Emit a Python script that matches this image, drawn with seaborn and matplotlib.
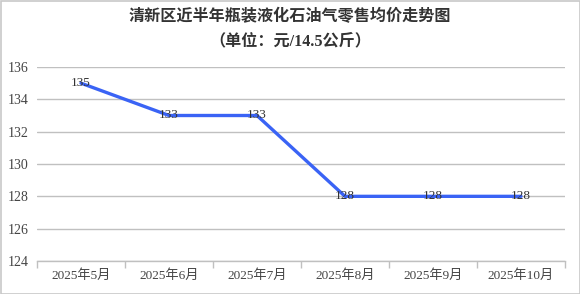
import matplotlib
matplotlib.use("Agg")
import matplotlib.pyplot as plt
import seaborn as sns
import pandas as pd
import numpy as np
from matplotlib.patches import Rectangle

months = ["2025年5月", "2025年6月", "2025年7月", "2025年8月", "2025年9月", "2025年10月"]
prices = [135, 133, 133, 128, 128, 128]
yticks = [124, 126, 128, 130, 132, 134, 136]
title = "清新区近半年瓶装液化石油气零售均价走势图\n（单位：元/14.5公斤）"

sns.set_style("white")
plt.rcParams['font.family'] = ['Liberation Serif', 'Noto Sans CJK SC', 'DejaVu Sans']

fig = plt.figure(figsize=(5.8, 2.94), dpi=100)
ax = fig.add_axes([37/580, 33/294, (565-37)/580, (261-67)/294])

df = pd.DataFrame({"x": np.arange(len(months)), "price": prices})
sns.lineplot(data=df, x="x", y="price", ax=ax, color="#3a63f5", linewidth=2.4)

for xi, p in zip(df["x"], df["price"]):
    ax.text(xi, p, str(p), ha="center", va="center", fontsize=9.5, color="#333333")

ax.set_xlim(-0.5, len(months) - 0.5)
ax.set_ylim(124, 136)
ax.set_yticks(yticks)
ax.set_yticklabels([str(v) for v in yticks], fontsize=10, color="#444444")
ax.yaxis.grid(True, color="#c0c0c0", linewidth=1)
ax.set_axisbelow(True)

ax.set_xticks(np.arange(-0.5, len(months), 1.0))
ax.set_xticklabels([])
ax.set_xticks(np.arange(len(months)), minor=True)
ax.set_xticklabels(months, minor=True, fontsize=9.5, color="#444444")
ax.tick_params(axis="x", which="major", length=5, color="#c0c0c0", width=1, direction="out", bottom=True)
ax.tick_params(axis="x", which="minor", length=0, pad=6)
ax.tick_params(axis="y", length=0, pad=6)
ax.set_xlabel("")
ax.set_ylabel("")

for s in ["left", "right", "top"]:
    ax.spines[s].set_visible(False)
ax.spines["bottom"].set_color("#c0c0c0")
ax.spines["bottom"].set_linewidth(1)

fig.text(0.5, 1 - 29/294, title, ha="center", va="center", fontsize=11.6,
         fontweight="bold", color="#333333", linespacing=1.65)

fig.patches.append(Rectangle((0.5/580, 0.5/294), 1 - 1/580, 1 - 1/294, transform=fig.transFigure,
                             fill=False, edgecolor="#c8c8c8", linewidth=1.2))

fig.savefig("out.png", dpi=100)
